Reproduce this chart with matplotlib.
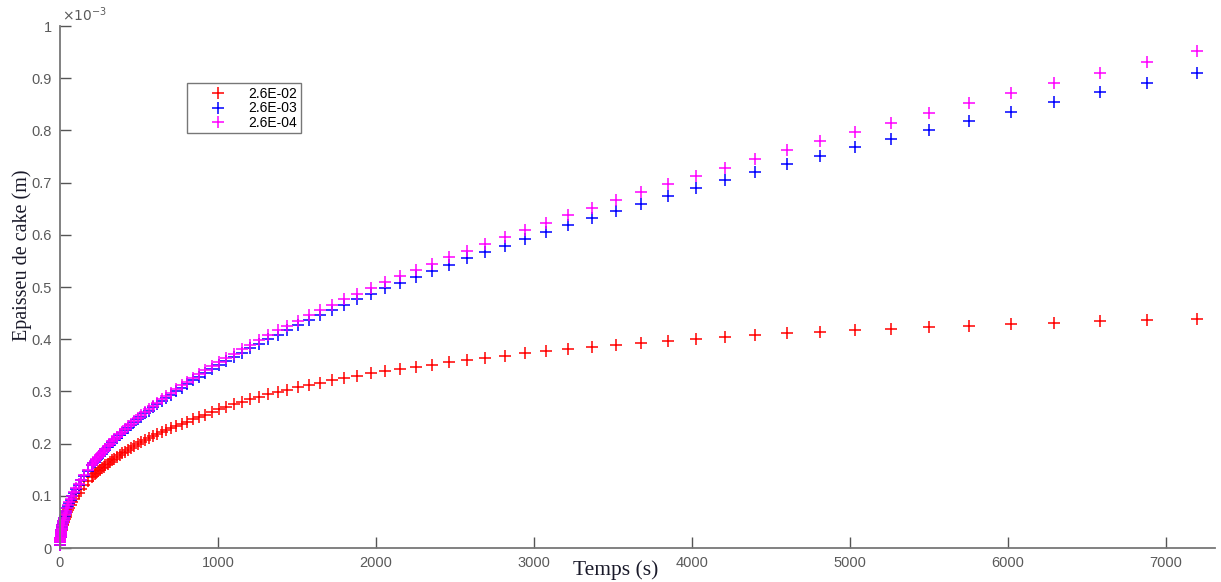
import numpy as np
import matplotlib
matplotlib.use('Agg')
import matplotlib.pyplot as plt
from matplotlib.ticker import FuncFormatter

# time (s), shared by the three curves
temps = [0.3, 1.05, 1.2, 1.4, 1.6, 1.8, 2.1, 2.4, 2.8, 3.2,
         3.6, 4.1, 4.7, 5.4, 6.2, 7.0, 8.1, 9.2, 10.5, 12.1,
         13.8, 15.8, 18.0, 20.6, 23.6, 27.0, 30.9, 35.3, 40.4, 46.2,
         52.8, 60.4, 69.0, 79.0, 90.3, 103.2, 118.0, 135.0, 154.4, 176.5,
         202, 211, 221, 231, 241, 252, 264, 276, 288, 301,
         315, 330, 345, 360, 377, 394, 412, 431, 451, 471,
         493, 515, 539, 563, 589, 616, 644, 674, 704, 737,
         770, 805, 842, 881, 921, 963, 1007, 1053, 1101, 1151,
         1204, 1259, 1317, 1377, 1440, 1505, 1574, 1646, 1721, 1800,
         1882, 1968, 2058, 2152, 2251, 2354, 2461, 2574, 2691, 2814,
         2943, 3077, 3218, 3365, 3519, 3680, 3848, 4024, 4208, 4400,
         4601, 4811, 5031, 5261, 5502, 5753, 6016, 6291, 6579, 6880,
         7194]

# cake thickness, in units of 1e-3 m
ep_2e02 = [0.0061, 0.0112, 0.0121, 0.0129, 0.0136, 0.0145, 0.0157, 0.0167, 0.0180, 0.0191,
           0.0202, 0.0215, 0.0230, 0.0245, 0.0262, 0.0278, 0.0298, 0.0316, 0.0337, 0.0360,
           0.0383, 0.0409, 0.0435, 0.0464, 0.0495, 0.0528, 0.0562, 0.0599, 0.0639, 0.0681,
           0.0725, 0.0773, 0.0824, 0.0878, 0.0936, 0.0997, 0.1061, 0.1130, 0.1203, 0.1280,
           0.1361, 0.1389, 0.1418, 0.1445, 0.1471, 0.1500, 0.1531, 0.1560, 0.1590, 0.1619,
           0.1650, 0.1684, 0.1714, 0.1744, 0.1780, 0.1812, 0.1847, 0.1881, 0.1918, 0.1952,
           0.1989, 0.2026, 0.2066, 0.2101, 0.2140, 0.2178, 0.2217, 0.2258, 0.2297, 0.2340,
           0.2381, 0.2423, 0.2467, 0.2511, 0.2556, 0.2606, 0.2656, 0.2705, 0.2754, 0.2802,
           0.2850, 0.2897, 0.2944, 0.2990, 0.3036, 0.3081, 0.3126, 0.3170, 0.3214, 0.3258,
           0.3301, 0.3344, 0.3387, 0.3429, 0.3471, 0.3515, 0.3559, 0.3602, 0.3645, 0.3687,
           0.3729, 0.3770, 0.3811, 0.3851, 0.3891, 0.3930, 0.3968, 0.4005, 0.4041, 0.4076,
           0.4110, 0.4143, 0.4173, 0.4202, 0.4231, 0.4259, 0.4287, 0.4314, 0.4341, 0.4367,
           0.4393]

ep_2e03 = [0.0062, 0.0115, 0.0124, 0.0133, 0.0141, 0.0150, 0.0163, 0.0174, 0.0188, 0.0201,
           0.0213, 0.0227, 0.0244, 0.0261, 0.0280, 0.0298, 0.0320, 0.0340, 0.0364, 0.0391,
           0.0416, 0.0445, 0.0475, 0.0509, 0.0545, 0.0582, 0.0622, 0.0665, 0.0712, 0.0761,
           0.0813, 0.0869, 0.0929, 0.0993, 0.1062, 0.1135, 0.1213, 0.1297, 0.1387, 0.1482,
           0.1584, 0.1620, 0.1657, 0.1694, 0.1729, 0.1767, 0.1810, 0.1849, 0.1889, 0.1931,
           0.1975, 0.2022, 0.2065, 0.2109, 0.2159, 0.2206, 0.2256, 0.2306, 0.2359, 0.2410,
           0.2464, 0.2518, 0.2577, 0.2632, 0.2692, 0.2751, 0.2813, 0.2876, 0.2938, 0.3006,
           0.3071, 0.3139, 0.3210, 0.3282, 0.3355, 0.3429, 0.3505, 0.3583, 0.3662, 0.3743,
           0.3827, 0.3911, 0.3999, 0.4087, 0.4178, 0.4269, 0.4364, 0.4461, 0.4558, 0.4661,
           0.4763, 0.4868, 0.4976, 0.5085, 0.5196, 0.5312, 0.5428, 0.5548, 0.5669, 0.5795,
           0.5921, 0.6051, 0.6184, 0.6320, 0.6458, 0.6599, 0.6743, 0.6891, 0.7041, 0.7194,
           0.7350, 0.7510, 0.7673, 0.7840, 0.8011, 0.8184, 0.8361, 0.8543, 0.8727, 0.8916,
           0.9108]

ep_2e04 = [0.0062, 0.0115, 0.0124, 0.0133, 0.0141, 0.0150, 0.0163, 0.0174, 0.0188, 0.0201,
           0.0213, 0.0227, 0.0244, 0.0261, 0.0280, 0.0298, 0.0320, 0.0340, 0.0364, 0.0391,
           0.0417, 0.0446, 0.0476, 0.0510, 0.0546, 0.0584, 0.0624, 0.0667, 0.0714, 0.0764,
           0.0816, 0.0873, 0.0933, 0.0998, 0.1067, 0.1141, 0.1220, 0.1305, 0.1396, 0.1492,
           0.1596, 0.1632, 0.1670, 0.1707, 0.1743, 0.1782, 0.1825, 0.1865, 0.1906, 0.1948,
           0.1993, 0.2041, 0.2085, 0.2130, 0.2181, 0.2229, 0.2280, 0.2331, 0.2385, 0.2437,
           0.2493, 0.2548, 0.2608, 0.2665, 0.2726, 0.2787, 0.2850, 0.2915, 0.2979, 0.3049,
           0.3116, 0.3186, 0.3259, 0.3333, 0.3408, 0.3485, 0.3563, 0.3644, 0.3726, 0.3810,
           0.3897, 0.3984, 0.4075, 0.4167, 0.4262, 0.4356, 0.4455, 0.4556, 0.4658, 0.4765,
           0.4872, 0.4982, 0.5095, 0.5210, 0.5327, 0.5449, 0.5571, 0.5697, 0.5825, 0.5958,
           0.6092, 0.6229, 0.6371, 0.6515, 0.6662, 0.6812, 0.6966, 0.7124, 0.7285, 0.7449,
           0.7617, 0.7789, 0.7965, 0.8145, 0.8330, 0.8518, 0.8710, 0.8908, 0.9109, 0.9315,
           0.9525]

labels = ['2.6E-02', '2.6E-03', '2.6E-04']
colors = ['#ff0000', '#0000ff', '#ff00ff']
xticks = [0, 1000, 2000, 3000, 4000, 5000, 6000, 7000]
yticks = [0, 0.1e-3, 0.2e-3, 0.3e-3, 0.4e-3, 0.5e-3, 0.6e-3, 0.7e-3, 0.8e-3, 0.9e-3, 1e-3]

sans = ['Liberation Sans', 'DejaVu Sans']
serif = ['Liberation Serif', 'DejaVu Serif']
grey = '#5a5a5a'

fig = plt.figure(figsize=(12.21, 5.82), dpi=100)
ax = fig.add_axes([0.0491, 0.0584, 0.9460, 0.8969])

t = np.array(temps)
for ep, lab, col in zip([ep_2e02, ep_2e03, ep_2e04], labels, colors):
    ax.plot(t, np.array(ep) * 1e-3, '+', color=col, ms=8, mew=1.1,
            label=lab, clip_on=False)

ax.set_xlim(0, 7310)
ax.set_ylim(0, 1e-3)
ax.set_xticks(xticks)
ax.set_yticks(yticks)
ax.yaxis.set_major_formatter(FuncFormatter(lambda v, p: '%g' % round(v * 1e3, 3)))

for s in ['top', 'right']:
    ax.spines[s].set_visible(False)
for s in ['left', 'bottom']:
    ax.spines[s].set_color('#777777')
    ax.spines[s].set_linewidth(1.3)

ax.tick_params(direction='in', length=8, width=1.0, colors='#555555',
               labelsize=10.5, pad=6)
for lab in ax.get_xticklabels() + ax.get_yticklabels():
    lab.set_family(sans)
    lab.set_color(grey)

ax.text(0.002, 1.003, r'$\times10^{-3}$', transform=ax.transAxes, ha='left',
        va='bottom', fontsize=10, color=grey)

ax.set_xlabel('Temps (s)', family=serif, fontsize=15.5, color='#1a1a2a')
ax.xaxis.set_label_coords(0.481, -0.024)
ax.set_ylabel('Epaisseu de cake (m)', family=serif, fontsize=14.5, color='#1a1a2a')
ax.yaxis.set_label_coords(-0.024, 0.56)

leg = ax.legend(loc='upper left', bbox_to_anchor=(0.1097, 0.890), borderaxespad=0,
                frameon=True, fancybox=False, prop={'family': sans, 'size': 10},
                handlelength=4.0, handletextpad=0.2, borderpad=0.25, labelspacing=0.04)
leg.get_frame().set_edgecolor('#555555')
leg.get_frame().set_linewidth(1.0)

fig.savefig('out.png', dpi=100)
